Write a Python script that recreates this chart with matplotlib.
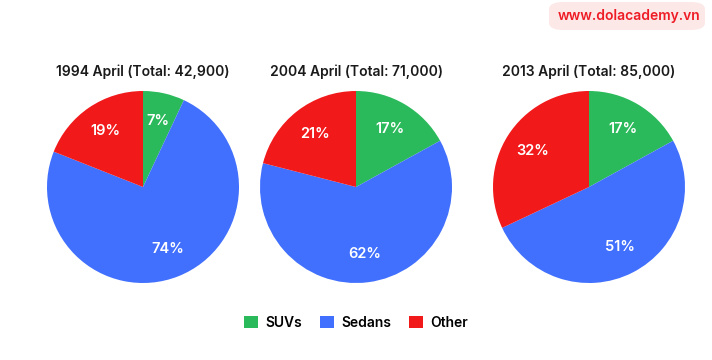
import matplotlib.pyplot as plt
from matplotlib.patches import FancyBboxPatch, Patch

plt.rcParams['font.family'] = ['Inter', 'DejaVu Sans']

categories = ['SUVs', 'Sedans', 'Other']
titles = ['1994 April (Total: 42,900)', '2004 April (Total: 71,000)', '2013 April (Total: 85,000)']
shares_1994 = [7, 74, 19]
shares_2004 = [17, 62, 21]
shares_2013 = [17, 51, 32]
colors = ['#2bba5b', '#4170fe', '#f2191b']

W, H = 712, 360
fig = plt.figure(figsize=(W / 100, H / 100), dpi=100)

# pie centers in pixels
centers = [(143, 187), (356, 187), (589, 187)]
R = 96
for (cx, cy), title, vals in zip(centers, titles, [shares_1994, shares_2004, shares_2013]):
    ax = fig.add_axes([(cx - R) / W, (H - cy - R) / H, 2 * R / W, 2 * R / H])
    ax.pie(vals, colors=colors, startangle=90, counterclock=False,
           autopct='%d%%', pctdistance=0.7,
           textprops=dict(color='white', fontsize=10.5, fontweight='semibold'))
    ax.set_xlim(-1, 1)
    ax.set_ylim(-1, 1)
    fig.text(cx / W, (H - 72) / H, title, ha='center', va='center',
             fontsize=10, fontweight='semibold', color='#1a1a1a')

handles = [Patch(facecolor=c, label=l) for c, l in zip(colors, categories)]
fig.legend(handles=handles, loc='center', bbox_to_anchor=(356 / W, (H - 323) / H),
           ncol=3, frameon=False, prop={'size': 10, 'weight': 'semibold'},
           handlelength=1.0, handleheight=1.0,
           columnspacing=1.3, handletextpad=0.5)

# watermark box
box = FancyBboxPatch((549 / W, (H - 30) / H), 156 / W, 28 / H,
                     boxstyle='round,pad=0,rounding_size=0.02',
                     transform=fig.transFigure, facecolor='#fde8e8', edgecolor='none')
fig.patches.append(box)
fig.text(629 / W, (H - 16) / H, 'www.dolacademy.vn', ha='center', va='center',
         fontsize=10, fontweight='semibold', color='#ee1c25')

fig.savefig('out.png', dpi=100)
